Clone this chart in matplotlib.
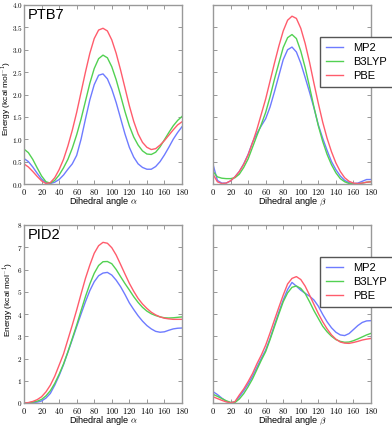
import numpy as np
import matplotlib
matplotlib.use("Agg")
import matplotlib.pyplot as plt
from matplotlib.ticker import FuncFormatter, MultipleLocator

plt.rcParams['mathtext.fontset'] = 'cm'
plt.rcParams['font.family'] = ['Liberation Sans', 'DejaVu Sans']

angles = list(range(0, 181, 5))
methods = ["MP2", "B3LYP", "PBE"]
colors = ["#6e7bff", "#52d152", "#ff5c6c"]

# PTB7, dihedral alpha
ptb7_alpha_mp2 = [0.57, 0.50, 0.38, 0.24, 0.11, 0.03, 0.01, 0.04, 0.10, 0.20, 0.33, 0.45, 0.64,
                  1.00, 1.45, 1.88, 2.22, 2.43, 2.46, 2.35, 2.12, 1.82, 1.47, 1.12, 0.82, 0.60,
                  0.45, 0.37, 0.33, 0.33, 0.39, 0.50, 0.65, 0.82, 1.00, 1.15, 1.28]
ptb7_alpha_b3lyp = [0.78, 0.70, 0.55, 0.36, 0.18, 0.05, 0.02, 0.08, 0.20, 0.36, 0.55, 0.80, 1.10,
                    1.45, 1.85, 2.25, 2.58, 2.80, 2.88, 2.82, 2.62, 2.33, 1.98, 1.62, 1.30, 1.05,
                    0.87, 0.74, 0.67, 0.66, 0.71, 0.83, 0.99, 1.15, 1.30, 1.42, 1.51]
ptb7_alpha_pbe = [0.45, 0.38, 0.28, 0.17, 0.07, 0.01, 0.03, 0.14, 0.32, 0.55, 0.85, 1.20, 1.60,
                  2.05, 2.50, 2.92, 3.25, 3.44, 3.48, 3.42, 3.22, 2.92, 2.55, 2.15, 1.75, 1.40,
                  1.12, 0.93, 0.82, 0.77, 0.79, 0.87, 0.97, 1.09, 1.21, 1.32, 1.39]

# PTB7, dihedral beta
ptb7_beta_mp2 = [0.44, 0.08, 0.02, 0.02, 0.07, 0.16, 0.28, 0.45, 0.66, 0.93, 1.13, 1.30, 1.46,
                 1.72, 2.06, 2.42, 2.78, 3.00, 3.06, 2.95, 2.70, 2.38, 2.05, 1.70, 1.32, 1.02,
                 0.75, 0.50, 0.32, 0.18, 0.08, 0.03, 0.01, 0.02, 0.06, 0.10, 0.10]
ptb7_beta_b3lyp = [0.28, 0.16, 0.13, 0.12, 0.12, 0.14, 0.22, 0.37, 0.56, 0.82, 1.08, 1.33, 1.60,
                   1.95, 2.34, 2.70, 3.05, 3.27, 3.34, 3.25, 2.97, 2.60, 2.17, 1.72, 1.30, 0.95,
                   0.66, 0.43, 0.25, 0.12, 0.05, 0.01, 0.00, 0.00, 0.02, 0.04, 0.05]
ptb7_beta_pbe = [0.22, 0.05, 0.01, 0.02, 0.07, 0.16, 0.28, 0.44, 0.65, 0.92, 1.22, 1.56, 1.90,
                 2.30, 2.70, 3.08, 3.42, 3.66, 3.75, 3.70, 3.48, 3.14, 2.72, 2.25, 1.80, 1.38,
                 1.02, 0.72, 0.47, 0.28, 0.14, 0.06, 0.02, 0.01, 0.02, 0.04, 0.05]

# PID2, dihedral alpha
pid2_alpha_mp2 = [0.00, 0.00, 0.02, 0.04, 0.09, 0.22, 0.43, 0.80, 1.23, 1.72, 2.28, 2.85, 3.43,
                  4.00, 4.55, 5.05, 5.45, 5.72, 5.84, 5.87, 5.75, 5.52, 5.23, 4.88, 4.50, 4.20,
                  3.92, 3.68, 3.48, 3.33, 3.22, 3.18, 3.20, 3.27, 3.33, 3.36, 3.37]
pid2_alpha_b3lyp = [0.00, 0.01, 0.04, 0.08, 0.16, 0.32, 0.55, 0.88, 1.29, 1.75, 2.30, 2.90, 3.50,
                    4.15, 4.78, 5.35, 5.83, 6.18, 6.35, 6.36, 6.26, 6.00, 5.68, 5.37, 5.08, 4.78,
                    4.52, 4.30, 4.13, 4.01, 3.93, 3.87, 3.83, 3.82, 3.83, 3.85, 3.87]
pid2_alpha_pbe = [0.00, 0.02, 0.07, 0.15, 0.28, 0.50, 0.80, 1.20, 1.70, 2.20, 2.85, 3.50, 4.18,
                  4.90, 5.60, 6.20, 6.73, 7.07, 7.22, 7.18, 6.98, 6.65, 6.23, 5.80, 5.38, 5.02,
                  4.70, 4.45, 4.25, 4.08, 3.96, 3.87, 3.81, 3.78, 3.76, 3.76, 3.76]

# PID2, dihedral beta
pid2_beta_mp2 = [0.51, 0.38, 0.22, 0.08, 0.01, 0.05, 0.28, 0.55, 0.85, 1.20, 1.60, 2.00, 2.38,
                 2.90, 3.50, 4.08, 4.63, 5.10, 5.42, 5.25, 5.07, 4.93, 4.80, 4.63, 4.35, 3.98,
                 3.65, 3.38, 3.18, 3.06, 3.03, 3.12, 3.30, 3.48, 3.62, 3.69, 3.70]
pid2_beta_b3lyp = [0.39, 0.30, 0.20, 0.10, 0.03, 0.02, 0.18, 0.42, 0.73, 1.08, 1.50, 1.92, 2.31,
                   2.85, 3.43, 4.00, 4.55, 4.95, 5.20, 5.26, 5.15, 4.92, 4.55, 4.15, 3.80, 3.45,
                   3.20, 3.00, 2.85, 2.77, 2.73, 2.74, 2.80, 2.88, 2.97, 3.06, 3.13]
pid2_beta_pbe = [0.28, 0.20, 0.12, 0.05, 0.01, 0.06, 0.36, 0.63, 0.96, 1.32, 1.76, 2.15, 2.60,
                 3.15, 3.73, 4.30, 4.85, 5.35, 5.60, 5.68, 5.55, 5.25, 4.85, 4.43, 4.02, 3.65,
                 3.33, 3.06, 2.87, 2.74, 2.69, 2.68, 2.72, 2.77, 2.83, 2.87, 2.90]

panels = [
    ("PTB7", r"Dihedral angle $\alpha$", [ptb7_alpha_mp2, ptb7_alpha_b3lyp, ptb7_alpha_pbe]),
    (None, r"Dihedral angle $\beta$", [ptb7_beta_mp2, ptb7_beta_b3lyp, ptb7_beta_pbe]),
    ("PID2", r"Dihedral angle $\alpha$", [pid2_alpha_mp2, pid2_alpha_b3lyp, pid2_alpha_pbe]),
    (None, r"Dihedral angle $\beta$", [pid2_beta_mp2, pid2_beta_b3lyp, pid2_beta_pbe]),
]

W, H = 392, 426
fig = plt.figure(figsize=(W / 100, H / 100), dpi=100)

def frac(l, t, r, b):
    return [l / W, 1 - b / H, (r - l) / W, (b - t) / H]

rects = [frac(24, 5, 182, 184), frac(213, 5, 371, 184),
         frac(24, 225, 182, 403), frac(213, 225, 371, 403)]
ylims = [(0, 4), (0, 4), (0, 8), (0, 8)]
ysteps = [0.5, 0.5, 1, 1]
ylabel_xy = {0: (-0.067, 0.48), 2: (-0.056, 0.58)}

def fmt_y1(v, pos):
    return r"$%.1f$" % v

def fmt_int(v, pos):
    return r"$%d$" % round(v)

for i, (name, xlabel, series) in enumerate(panels):
    ax = fig.add_axes(rects[i])
    for vals, m, c in zip(series, methods, colors):
        ax.plot(angles, vals, color=c, lw=1.0, label=m)
    ax.set_xlim(0, 180)
    ax.set_ylim(*ylims[i])
    ax.xaxis.set_major_locator(MultipleLocator(20))
    ax.yaxis.set_major_locator(MultipleLocator(ysteps[i]))
    ax.xaxis.set_major_formatter(FuncFormatter(fmt_int))
    if i == 0:
        ax.yaxis.set_major_formatter(FuncFormatter(fmt_y1))
    elif i == 2:
        ax.yaxis.set_major_formatter(FuncFormatter(fmt_int))
    else:
        ax.set_yticklabels([])
    ax.tick_params(direction='in', top=True, right=True, length=3, width=0.6,
                   labelsize=6, pad=2, color='#888888')
    ax.tick_params(axis='y', labelsize=5.2, pad=1.0)
    for s in ax.spines.values():
        s.set_color('#999999')
        s.set_linewidth(1.0)
    ax.set_xlabel(xlabel, fontsize=6.6)
    ax.xaxis.set_label_coords(0.5, -0.064)
    if i in (0, 2):
        ax.set_ylabel(r"Energy (kcal mol$^{-1}$)", fontsize=6.0)
        ax.yaxis.set_label_coords(*ylabel_xy[i])
    if name:
        ax.text(0.025, 0.985, name, transform=ax.transAxes, fontsize=10.5,
                ha='left', va='top')
    if i in (1, 3):
        ax.legend(loc='upper left', bbox_to_anchor=(0.677, 0.821 if i == 1 else 0.82),
                  fontsize=8, frameon=True, fancybox=False, handlelength=1.5,
                  borderpad=0.55, labelspacing=0.35, handletextpad=0.9,
                  borderaxespad=0, edgecolor='#555555', framealpha=1)

fig.savefig("out.png", dpi=100)
